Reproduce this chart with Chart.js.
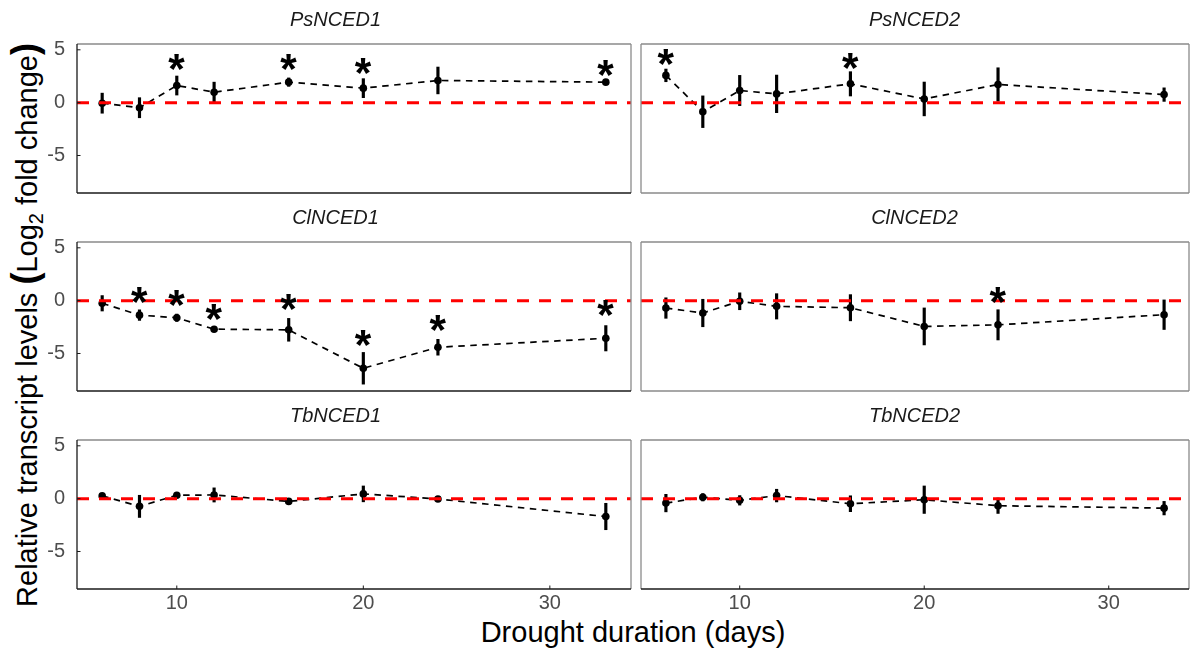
<!DOCTYPE html>
<html>
<head>
<meta charset="utf-8">
<script src="https://cdn.jsdelivr.net/npm/chart.js@4.4.1/dist/chart.umd.min.js"></script>
<style>
  html, body { margin: 0; padding: 0; background: #fff; }
  body { width: 1190px; height: 649px; position: relative; overflow: hidden; font-family: "Liberation Sans", Arial, sans-serif; }
  canvas { position: absolute; }
  #ytitle { position: absolute; left: 26px; top: 325px; transform: translate(-50%, -50%) rotate(-90deg); white-space: nowrap; font-size: 29px; color: #000; }
  #ytitle .par { font-size: 36px; font-weight: bold; }
  #ytitle sub { font-size: 20px; }
  #xtitle { position: absolute; left: 633px; top: 632px; transform: translate(-50%, -50%); white-space: nowrap; font-size: 29px; color: #000; }
</style>
</head>
<body>
<div id="ytitle">Relative transcript levels <span class="par">(</span>Log<sub>2</sub> fold change<span class="par">)</span></div>
<div id="xtitle">Drought duration (days)</div>
<script>
// drought duration (days) sampled
const days = [6, 8, 10, 12, 16, 20, 24, 33];
const xTicks = [10, 20, 30];
const yTicks = [-5, 0, 5];

const genes = ['PsNCED1', 'PsNCED2', 'ClNCED1', 'ClNCED2', 'TbNCED1', 'TbNCED2'];

// log2 fold change means, standard errors and where the asterisks sit
const psNCED1Mean = [-0.05, -0.48, 1.62, 0.99, 1.94, 1.37, 2.10, 1.94];
const psNCED1Se   = [0.95, 0.95, 0.90, 0.95, 0.40, 0.90, 1.27, 0.20];
const psNCED1Star = [null, null, 3.8, null, 3.8, 3.47, null, 3.3];

const psNCED2Mean = [2.58, -0.86, 1.15, 0.83, 1.78, 0.35, 1.72, 0.76];
const psNCED2Se   = [0.60, 1.50, 1.43, 1.78, 1.15, 1.60, 1.58, 0.64];
const psNCED2Star = [4.33, null, null, null, 3.95, null, null, null];

const clNCED1Mean = [-0.25, -1.37, -1.62, -2.70, -2.76, -6.40, -4.41, -3.56];
const clNCED1Se   = [0.73, 0.50, 0.35, 0.15, 1.08, 1.50, 0.75, 1.20];
const clNCED1Star = [null, 0.57, 0.25, -1.05, -0.13, -3.56, -2.16, -0.73];

const clNCED2Mean = [-0.70, -1.17, -0.06, -0.54, -0.67, -2.44, -2.29, -1.33];
const clNCED2Se   = [0.97, 1.30, 0.80, 1.20, 1.24, 1.75, 1.43, 1.40];
const clNCED2Star = [null, null, null, null, null, null, 0.57, null];

const tbNCED1Mean = [0.26, -0.73, 0.32, 0.35, -0.26, 0.45, -0.03, -1.69];
const tbNCED1Se   = [0.15, 1.05, 0.15, 0.67, 0.25, 0.75, 0.20, 1.25];
const tbNCED1Star = [null, null, null, null, null, null, null, null];

const tbNCED2Mean = [-0.42, 0.13, -0.16, 0.29, -0.48, -0.10, -0.67, -0.90];
const tbNCED2Se   = [0.83, 0.35, 0.45, 0.60, 0.75, 1.30, 0.73, 0.64];
const tbNCED2Star = [null, null, null, null, null, null, null, null];

const panels = [
  [psNCED1Mean, psNCED1Se, psNCED1Star],
  [psNCED2Mean, psNCED2Se, psNCED2Star],
  [clNCED1Mean, clNCED1Se, clNCED1Star],
  [clNCED2Mean, clNCED2Se, clNCED2Star],
  [tbNCED1Mean, tbNCED1Se, tbNCED1Star],
  [tbNCED2Mean, tbNCED2Se, tbNCED2Star]
];

const FONT = '"Liberation Sans", Arial, sans-serif';

// zero line, asterisks, panel frame and inward ticks
const panelDecor = {
  id: 'panelDecor',
  afterDatasetsDraw(chart, args, opts) {
    const { ctx, chartArea: a, scales: { x, y } } = chart;
    ctx.save();

    const y0 = y.getPixelForValue(0);
    ctx.strokeStyle = '#ff0000';
    ctx.lineWidth = 3;
    ctx.setLineDash([12, 10]);
    ctx.beginPath();
    ctx.moveTo(a.left, y0);
    ctx.lineTo(a.right, y0);
    ctx.stroke();
    ctx.setLineDash([]);

    // asterisks
    ctx.font = 'bold 100px ' + FONT;
    let m = ctx.measureText('*');
    const size = 100 * 16.5 / (m.actualBoundingBoxLeft + m.actualBoundingBoxRight);
    ctx.font = 'bold ' + size + 'px ' + FONT;
    m = ctx.measureText('*');
    ctx.fillStyle = '#000';
    ctx.textAlign = 'left';
    ctx.textBaseline = 'alphabetic';
    opts.stars.forEach((s, k) => {
      if (s === null) return;
      const cx = x.getPixelForValue(days[k]);
      const cy = y.getPixelForValue(s);
      ctx.fillText('*', cx - (m.actualBoundingBoxRight - m.actualBoundingBoxLeft) / 2,
        cy + (m.actualBoundingBoxAscent - m.actualBoundingBoxDescent) / 2);
    });

    // frame
    const edge = (x1, y1, x2, y2, c) => {
      ctx.strokeStyle = c;
      ctx.lineWidth = 1.3;
      ctx.beginPath();
      ctx.moveTo(x1, y1);
      ctx.lineTo(x2, y2);
      ctx.stroke();
    };
    const gray = '#8a8a8a', dark = '#1a1a1a';
    edge(a.left, a.top, a.right, a.top, gray);
    edge(a.right, a.top, a.right, a.bottom, gray);
    edge(a.left, a.top, a.left, a.bottom, opts.leftAxis ? dark : gray);
    edge(a.left, a.bottom, a.right, a.bottom, opts.bottomAxis ? dark : gray);

    ctx.strokeStyle = dark;
    ctx.lineWidth = 1;
    if (opts.leftAxis) {
      yTicks.forEach(v => {
        const py = y.getPixelForValue(v);
        ctx.beginPath(); ctx.moveTo(a.left, py); ctx.lineTo(a.left + 3.5, py); ctx.stroke();
      });
    }
    if (opts.tickBottom) {
      xTicks.forEach(v => {
        const px = x.getPixelForValue(v);
        ctx.beginPath(); ctx.moveTo(px, a.bottom); ctx.lineTo(px, a.bottom - 3.5); ctx.stroke();
      });
    }
    ctx.restore();
  }
};

// canvases are made wider on the right so the strip title centres over the panel
const colLeft = [40, 640];
const colWidth = [628, 550];
const padRight = [37, 1];
const axisWidth = [37, 1];
const rowTop = [0, 198, 396];

genes.forEach((gene, i) => {
  const col = i % 2, row = Math.floor(i / 2);
  const isLeft = col === 0, isBottom = row === 2;
  const [mean, se, stars] = panels[i];

  const canvas = document.createElement('canvas');
  canvas.width = colWidth[col];
  canvas.height = isBottom ? 233 : 195;
  canvas.style.left = colLeft[col] + 'px';
  canvas.style.top = rowTop[row] + 'px';
  document.body.appendChild(canvas);

  new Chart(canvas, {
    type: 'line',
    data: {
      datasets: [
        {
          type: 'line',
          data: days.map((d, k) => ({ x: d, y: mean[k] })),
          borderColor: '#000',
          borderWidth: 1.7,
          borderDash: [6.5, 5.5],
          pointRadius: 3.8,
          pointBackgroundColor: '#000',
          pointBorderWidth: 0,
          tension: 0,
          order: 0
        },
        {
          type: 'bar',
          data: days.map((d, k) => ({ x: d, y: [mean[k] - se[k], mean[k] + se[k]] })),
          backgroundColor: '#000',
          borderWidth: 0,
          barThickness: 2.5,
          order: 1
        }
      ]
    },
    options: {
      responsive: false,
      animation: false,
      events: [],
      layout: { padding: { left: 0, right: padRight[col], top: 0, bottom: 0 }, autoPadding: false },
      plugins: {
        legend: { display: false },
        tooltip: { enabled: false },
        title: {
          display: true,
          text: gene,
          color: '#1a1a1a',
          font: { family: FONT, size: 20, style: 'italic', weight: 'normal' },
          padding: { top: 8, bottom: 12 }
        },
        panelDecor: { stars: stars, leftAxis: isLeft, bottomAxis: isBottom || isLeft, tickBottom: isBottom }
      },
      scales: {
        x: {
          type: 'linear',
          min: 4.65,
          max: 34.35,
          offset: false,
          grid: { display: false },
          border: { display: false },
          afterBuildTicks: s => { s.ticks = xTicks.map(v => ({ value: v })); },
          afterFit: s => { s.height = isBottom ? 40 : 2; s.paddingLeft = 0; s.paddingRight = 0; },
          ticks: { display: isBottom, color: '#4d4d4d', font: { family: FONT, size: 20 }, padding: -6, maxRotation: 0 }
        },
        y: {
          type: 'linear',
          min: -8.55,
          max: 5.55,
          grid: { display: false },
          border: { display: false },
          afterBuildTicks: s => { s.ticks = yTicks.map(v => ({ value: v })); },
          afterFit: s => { s.width = axisWidth[col]; s.paddingTop = 0; s.paddingBottom = 0; },
          ticks: { display: isLeft, color: '#4d4d4d', font: { family: FONT, size: 20 }, padding: 4 }
        }
      }
    },
    plugins: [panelDecor]
  });
});
</script>
</body>
</html>
